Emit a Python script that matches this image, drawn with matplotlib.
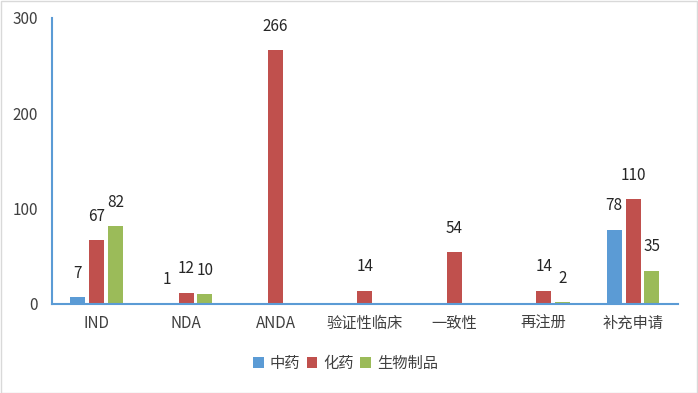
import numpy as np
import matplotlib
matplotlib.use("Agg")
import matplotlib.pyplot as plt
from matplotlib.patches import Rectangle

plt.rcParams['font.family'] = ['Noto Sans CJK SC', 'DejaVu Sans']

# data
categories = ["IND", "NDA", "ANDA", "验证性临床", "一致性", "再注册", "补充申请"]
series_names = ["中药", "化药", "生物制品"]
tcm = [7, 1, 0, 0, 0, 0, 78]
chem = [67, 12, 266, 14, 54, 14, 110]
bio = [82, 10, 0, 0, 0, 2, 35]
yticks = [0, 100, 200, 300]

colors = ["#5B9BD5", "#C0504D", "#9BBB59"]
axis_blue = "#5B9BD5"
text_col = "#404040"

fig = plt.figure(figsize=(6.98, 3.93), dpi=100)
fig.patches.append(Rectangle((0.001, 0.001), 0.997, 0.997, transform=fig.transFigure,
                             fill=False, edgecolor="#D9D9D9", linewidth=1))
ax = fig.add_axes([0.0745, 0.2265, 0.8965, 0.728])

x = np.arange(len(categories))
step = 0.21
width = 0.168
for i, (vals, name) in enumerate(zip([tcm, chem, bio], series_names)):
    pos = x + (i - 1) * step
    bars = ax.bar(pos, vals, width=width, color=colors[i], label=name, zorder=2)
    for b, v in zip(bars, vals):
        if v == 0:
            continue
        ax.annotate(str(v), (b.get_x() + b.get_width() / 2, v), xytext=(0, 11),
                    textcoords="offset points", ha="center", va="bottom",
                    fontsize=11, color="#262626")

ax.set_xlim(-0.5, len(categories) - 0.5)
ax.set_ylim(0, 300)
ax.set_yticks(yticks)
ax.set_xticks(x)
ax.set_xticklabels(categories)
ax.tick_params(length=0, labelsize=11, colors=text_col, pad=8)
ax.tick_params(axis="y", pad=10)

for s in ["top", "right"]:
    ax.spines[s].set_visible(False)
for s in ["left", "bottom"]:
    ax.spines[s].set_color(axis_blue)
    ax.spines[s].set_linewidth(1.5)

handles, labels = ax.get_legend_handles_labels()
fig.legend(handles, labels, loc="center", bbox_to_anchor=(0.495, 0.075), ncol=3,
           frameon=False, fontsize=11, handlelength=0.7, handleheight=0.7,
           handletextpad=0.4, columnspacing=0.4, labelcolor=text_col)

fig.savefig("out.png", dpi=100)
